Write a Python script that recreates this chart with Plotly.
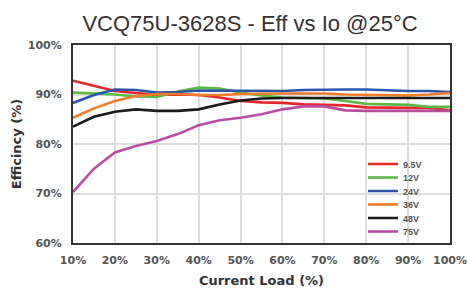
import plotly.graph_objects as go

load = [10, 15, 20, 25, 30, 35, 40, 45, 50, 55, 60, 65, 70, 75, 80, 85, 90, 95, 100]

eff_9v5 = [92.8, 91.7, 90.7, 90.3, 89.9, 90.0, 89.9, 89.4, 88.7, 88.4, 88.3, 88.0, 87.9, 87.8, 87.4, 87.3, 87.3, 87.3, 86.8]
eff_12v = [90.4, 90.2, 90.0, 89.6, 89.5, 90.6, 91.4, 91.2, 90.4, 89.8, 89.4, 89.3, 89.2, 88.7, 88.1, 88.0, 87.9, 87.5, 87.5]
eff_24v = [88.3, 89.9, 91.0, 90.9, 90.4, 90.5, 90.8, 90.8, 90.7, 90.7, 90.7, 90.9, 91.0, 91.0, 91.0, 90.8, 90.7, 90.7, 90.5]
eff_36v = [85.3, 87.2, 88.7, 89.7, 90.1, 90.1, 89.9, 89.9, 90.1, 90.2, 90.2, 90.2, 90.2, 90.0, 89.9, 89.9, 89.8, 90.0, 90.3]
eff_48v = [83.5, 85.5, 86.5, 87.0, 86.7, 86.7, 87.0, 88.0, 88.8, 89.2, 89.3, 89.3, 89.3, 89.3, 89.3, 89.3, 89.3, 89.3, 89.3]
eff_75v = [70.3, 75.0, 78.3, 79.6, 80.6, 82.0, 83.8, 84.8, 85.3, 86.0, 87.0, 87.6, 87.6, 86.8, 86.7, 86.7, 86.7, 86.7, 86.7]

series_names = ["9.5V", "12V", "24V", "36V", "48V", "75V"]
series_values = [eff_9v5, eff_12v, eff_24v, eff_36v, eff_48v, eff_75v]
colors = ["#e8262a", "#5cb946", "#2b55a8", "#f07c28", "#1a1a1a", "#b84ea0"]

W, H = 467, 289
L, R, T, B = 73, 17, 45, 46
pw, ph = W - L - R, H - T - B

fig = go.Figure()
legend_keys = ["legend", "legend2", "legend3", "legend4", "legend5", "legend6"]
item_centers_px = [164, 177.5, 191, 204.5, 218, 231.5]

for name, vals, col, lk in zip(series_names, series_values, colors, legend_keys):
    fig.add_trace(go.Scatter(x=load, y=vals, mode="lines", name=name,
                             line=dict(color=col, width=2.6), legend=lk))

layout_legends = {}
for lk, cy in zip(legend_keys, item_centers_px):
    layout_legends[lk] = dict(
        x=(363 - L) / pw, xanchor="left",
        y=(H - B - cy) / ph, yanchor="middle",
        bgcolor="rgba(0,0,0,0)", borderwidth=0,
        font=dict(family="Liberation Sans", size=9, color="#555555", weight="bold"),
        tracegroupgap=0, itemwidth=30,
    )

fig.update_layout(
    width=W, height=H,
    margin=dict(l=L, r=R, t=T, b=B, autoexpand=False),
    paper_bgcolor="white", plot_bgcolor="white",
    showlegend=True,
    title=dict(text="VCQ75U-3628S - Eff vs Io @25°C", x=250 / W, xanchor="center",
               xref="container", yref="container", y=1 - 23 / H, yanchor="middle",
               font=dict(family="Liberation Sans", size=22, color="#333333")),
    **layout_legends,
    shapes=[dict(type="rect", xref="paper", yref="paper",
                 x0=(348 - L) / pw, x1=(443 - L) / pw,
                 y0=(H - B - 242) / ph, y1=(H - B - 150) / ph,
                 fillcolor="white", line=dict(width=0), layer="between")],
)

tick_font = dict(family="DejaVu Sans", size=11, color="#555555", weight="bold")
title_font = dict(family="DejaVu Sans", size=13, color="#333333", weight="bold")

fig.update_xaxes(range=[10, 100], dtick=10, tick0=10, ticksuffix="%",
                 showgrid=True, gridcolor="#dddddd", gridwidth=1.5,
                 showline=True, linecolor="#333333", linewidth=2, mirror=True,
                 ticks="", tickfont=tick_font, ticklabelstandoff=6, automargin=False,
                 title=dict(text="Current Load (%)", font=title_font, standoff=10),
                 zeroline=False)
fig.update_yaxes(range=[60, 100], dtick=10, tick0=60, ticksuffix="%",
                 showgrid=True, gridcolor="#dddddd", gridwidth=1.5,
                 showline=True, linecolor="#333333", linewidth=2, mirror=True,
                 ticks="", tickfont=tick_font, ticklabelstandoff=7, automargin=False,
                 title=dict(text="Efficincy (%)", font=title_font, standoff=3),
                 zeroline=False)

fig.write_html("out.html", config={"displayModeBar": False},
               post_script="document.body.style.margin='0';document.body.style.overflow='hidden';")
